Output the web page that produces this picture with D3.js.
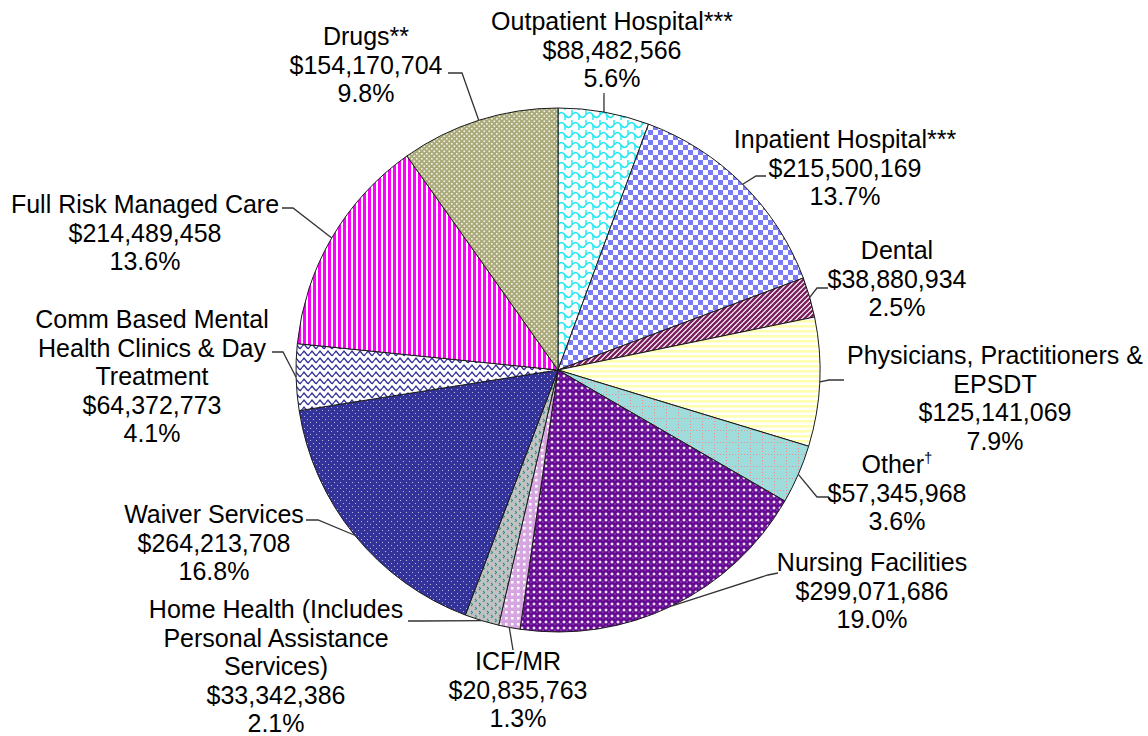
<!DOCTYPE html>
<html><head><meta charset="utf-8">
<script src="https://cdn.jsdelivr.net/npm/d3@7"></script>
<style>body{margin:0;background:#fff}svg{display:block}</style>
</head><body>
<svg id="c" width="1148" height="736"></svg>
<script>
const categories = ["Outpatient Hospital***","Inpatient Hospital***","Dental","Physicians, Practitioners & EPSDT","Other†","Nursing Facilities","ICF/MR","Home Health (Includes Personal Assistance Services)","Waiver Services","Comm Based Mental Health Clinics & Day Treatment","Full Risk Managed Care","Drugs**"];
const values = [88482566,215500169,38880934,125141069,57345968,299071686,20835763,33342386,264213708,64372773,214489458,154170704];
const percents = ["5.6%","13.7%","2.5%","7.9%","3.6%","19.0%","1.3%","2.1%","16.8%","4.1%","13.6%","9.8%"];
const nameLines = [["Outpatient Hospital***"],["Inpatient Hospital***"],["Dental"],["Physicians, Practitioners &","EPSDT"],["Other†"],["Nursing Facilities"],["ICF/MR"],["Home Health (Includes","Personal Assistance","Services)"],["Waiver Services"],["Comm Based Mental","Health Clinics & Day","Treatment"],["Full Risk Managed Care"],["Drugs**"]];

// layout (positions only)
const cx = 558, cy = 370, R = 262, lh = 28.5;
const labelPos = [
  {x:612,y:30, lead:[[604,93]]},
  {x:845,y:148, lead:[[766,176],[756,176]]},
  {x:897,y:259, lead:[[828,288],[817,288]]},
  {x:995,y:364, lead:[[844,380],[829,380]]},
  {x:897,y:473, lead:[[829,497],[817,497]]},
  {x:872,y:571, lead:[[778,573],[768,575]]},
  {x:518,y:670, lead:[[513,650]]},
  {x:276,y:618, lead:[[408,621],[420,621]]},
  {x:214,y:523, lead:[[306,520],[318,520]]},
  {x:152,y:328, lead:[[272,352],[283,352]]},
  {x:145,y:213, lead:[[282,208],[293,208]]},
  {x:366,y:45, lead:[[448,73],[462,73]]}
];

const svg = d3.select("#c");
const defs = svg.append("defs");
function pat(id,w,h,bg,draw){
  const p = defs.append("pattern").attr("id",id).attr("patternUnits","userSpaceOnUse").attr("width",w).attr("height",h);
  p.append("rect").attr("width",w).attr("height",h).attr("fill",bg);
  draw(p);
}
// 0 Outpatient: cyan scallops
pat("p0",14,10,"#fff",p=>{
  p.append("path").attr("d","M0,5 Q3.5,0 7,5 Q10.5,10 14,5").attr("fill","none").attr("stroke","#1ee8f0").attr("stroke-width",1.6);
  p.append("path").attr("d","M7,5 L7,10 M0,0 L0,5 M14,0 L14,5").attr("stroke","#1ee8f0").attr("stroke-width",1.4);
});
// 1 Inpatient: checker
pat("p1",10,10,"#fff",p=>{
  p.append("rect").attr("width",5).attr("height",5).attr("fill","#7b7bf5");
  p.append("rect").attr("x",5).attr("y",5).attr("width",5).attr("height",5).attr("fill","#7b7bf5");
});
// 2 Dental: diagonal stripes
pat("p2",5,5,"#fff",p=>{
  p.append("path").attr("d","M-1,6 L6,-1 M-1,1 L1,-1 M4,6 L6,4").attr("stroke","#7a1f5e").attr("stroke-width",2.3);
});
// 3 Physicians: pale yellow horizontal stripes
pat("p3",5,5,"#fff",p=>{
  p.append("rect").attr("width",5).attr("height",2.6).attr("fill","#ffffb0");
});
// 4 Other: teal with pink dotted grid
pat("p4",12,12,"#a0dcdc",p=>{
  p.append("path").attr("d","M0,0.5 H12 M0.5,0 V12").attr("stroke","#ee8c8c").attr("stroke-width",1).attr("stroke-dasharray","1,2");
});
// 5 Nursing: purple circles
pat("p5",6,6,"#fff",p=>{
  p.append("circle").attr("cx",3).attr("cy",3).attr("r",3.1).attr("fill","#660a94");
  p.append("rect").attr("x",2).attr("y",1.6).attr("width",2).attr("height",0.8).attr("fill","#a070c0");
});
// 6 ICF/MR: lavender plaid
pat("p6",6,6,"#d6a6e0",p=>{
  p.append("rect").attr("x",1).attr("y",1).attr("width",2.5).attr("height",2.5).attr("fill","#fff");
});
// 7 Home Health: gray with teal marks
pat("p7",8,8,"#c2c2c2",p=>{
  p.append("path").attr("d","M1,1 L2.5,2.5 L1,4 M5,5 L6.5,6.5 L5,8").attr("fill","none").attr("stroke","#2f8f8f").attr("stroke-width",1.1);
});
// 8 Waiver: navy with white dots
pat("p8",6,6,"#333399",p=>{
  p.append("rect").attr("x",1).attr("y",1).attr("width",1).attr("height",1).attr("fill","#b8b8e0");
  p.append("rect").attr("x",4).attr("y",4).attr("width",1).attr("height",1).attr("fill","#b8b8e0");
});
// 9 Comm Based: navy zigzag on white
pat("p9",8,7,"#fff",p=>{
  p.append("path").attr("d","M0,4.5 L2,2 L4,4.5 L6,7 L8,4.5 M-2,2 L0,4.5 M6,0 L8,-2").attr("fill","none").attr("stroke","#333399").attr("stroke-width",1.3);
});
// 10 Full Risk: magenta vertical stripes
pat("p10",5,5,"#fff",p=>{
  p.append("rect").attr("width",3).attr("height",5).attr("fill","#ff00ff");
});
// 11 Drugs: olive with white dots
pat("p11",5,5,"#aaaa7a",p=>{
  p.append("rect").attr("x",0.5).attr("y",0.5).attr("width",1.6).attr("height",1.6).attr("fill","#f4f4e8");
  p.append("rect").attr("x",3).attr("y",3).attr("width",1.6).attr("height",1.6).attr("fill","#f4f4e8");
});

const pie = d3.pie().sort(null).value(d=>d)(values);
const arc = d3.arc().innerRadius(0).outerRadius(R);
const g = svg.append("g").attr("transform",`translate(${cx},${cy})`);
g.selectAll("path").data(pie).join("path")
  .attr("d",arc).attr("fill",(d,i)=>`url(#p${i})`)
  .attr("stroke","#1a1a1a").attr("stroke-width",1);

// leaders
const edge = d3.arc().innerRadius(R).outerRadius(R);
pie.forEach((d,i)=>{
  const c = edge.centroid(d);
  const pts = labelPos[i].lead.concat([[cx+c[0],cy+c[1]]]);
  svg.append("path").attr("d",d3.line()(pts)).attr("fill","none").attr("stroke","#333").attr("stroke-width",1.3);
});

// labels
const fmt = d3.format("$,");
categories.forEach((c,i)=>{
  const lp = labelPos[i];
  const lines = nameLines[i].concat([fmt(values[i]), percents[i]]);
  const t = svg.append("text").attr("text-anchor","middle")
    .attr("font-family","'Liberation Sans', Arial, sans-serif").attr("font-size",25).attr("fill","#000");
  lines.forEach((ln,k)=>{
    const ts = t.append("tspan").attr("x",lp.x).attr("y",lp.y+k*lh);
    if (ln.endsWith("†")) {
      ts.text(ln.slice(0,-1));
      ts.append("tspan").attr("font-size",15).attr("dy",-10).text("†");
    } else ts.text(ln);
  });
});
</script>
</body></html>
